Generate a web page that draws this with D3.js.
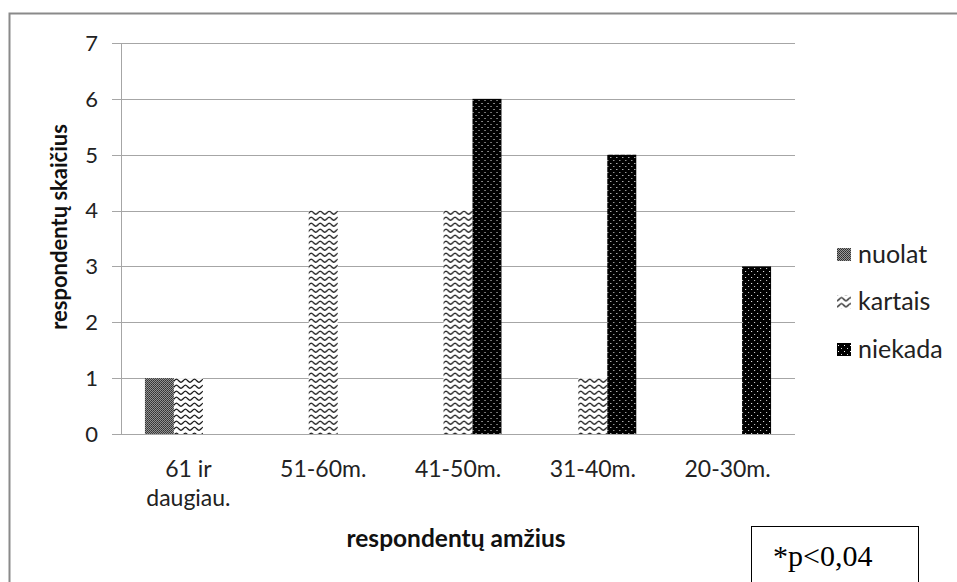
<!DOCTYPE html>
<html>
<head>
<meta charset="utf-8">
<script src="https://cdn.jsdelivr.net/npm/d3@7"></script>
<style>
  body { margin: 0; background: #fff; }
  svg { display: block; }
</style>
</head>
<body>
<svg id="fig" width="957" height="582"></svg>
<script>
'use strict';

// data
const categories = ['61 ir daugiau.', '51-60m.', '41-50m.', '31-40m.', '20-30m.'];
const cat_lines = [['61 ir', 'daugiau.'], ['51-60m.'], ['41-50m.'], ['31-40m.'], ['20-30m.']];
const series = ['nuolat', 'kartais', 'niekada'];
const nuolat = [1, 0, 0, 0, 0];
const kartais = [1, 4, 4, 1, 0];
const niekada = [0, 0, 6, 5, 3];
const y_ticks = [0, 1, 2, 3, 4, 5, 6, 7];

const values = {nuolat: nuolat, kartais: kartais, niekada: niekada};

const font = 'Lato, "Open Sans", sans-serif';
const font_size = 23;
const grid_color = '#a6a6a6';
const plot_l = 121, plot_r = 795, plot_t = 43, plot_b = 434;

const svg = d3.select('#fig');

// patterns
const defs = svg.append('defs');

const p1 = defs.append('pattern')
    .attr('id', 'pat_nuolat')
    .attr('patternUnits', 'userSpaceOnUse')
    .attr('width', 2).attr('height', 2);
p1.append('rect').attr('width', 2).attr('height', 2).attr('fill', '#9a9a9a');
p1.append('rect').attr('width', 1).attr('height', 1).attr('fill', '#2a2a2a');
p1.append('rect').attr('x', 1).attr('y', 1).attr('width', 1).attr('height', 1).attr('fill', '#3a3a3a');

const p2 = defs.append('pattern')
    .attr('id', 'pat_kartais')
    .attr('patternUnits', 'userSpaceOnUse')
    .attr('width', 9).attr('height', 6);
p2.append('rect').attr('width', 9).attr('height', 6).attr('fill', '#fff');
p2.append('path')
    .attr('d', 'M0,4.3 C1.5,4.3 3,1.2 4.5,1.2 C6,1.2 7.5,4.3 9,4.3')
    .attr('fill', 'none')
    .attr('stroke', '#111')
    .attr('stroke-width', 1.2);

const p3 = defs.append('pattern')
    .attr('id', 'pat_niekada')
    .attr('patternUnits', 'userSpaceOnUse')
    .attr('width', 6).attr('height', 6);
p3.append('rect').attr('width', 6).attr('height', 6).attr('fill', '#000');
p3.append('rect').attr('x', 1).attr('y', 1).attr('width', 1).attr('height', 1).attr('fill', '#fff');
p3.append('rect').attr('x', 4).attr('y', 4).attr('width', 1).attr('height', 1).attr('fill', '#ddd');

const fills = {nuolat: 'url(#pat_nuolat)', kartais: 'url(#pat_kartais)', niekada: 'url(#pat_niekada)'};

// outer frame
svg.append('rect')
    .attr('x', 9.5).attr('y', 13.5)
    .attr('width', 960).attr('height', 600)
    .attr('fill', 'none')
    .attr('stroke', '#8a8a8a')
    .attr('stroke-width', 2);

// scales
const x0 = d3.scaleBand()
    .domain(categories)
    .range([plot_l, plot_r])
    .paddingInner(0.355)
    .paddingOuter(0.1775);
const x1 = d3.scaleBand()
    .domain(series)
    .range([0, x0.bandwidth()]);
const y = d3.scaleLinear()
    .domain([0, 7])
    .range([plot_b, plot_t]);

// gridlines + y ticks
svg.append('g')
    .selectAll('line')
    .data(y_ticks)
    .enter()
    .append('line')
    .attr('x1', plot_l - 9)
    .attr('x2', plot_r)
    .attr('y1', d => Math.round(y(d)) + 0.5)
    .attr('y2', d => Math.round(y(d)) + 0.5)
    .attr('stroke', grid_color);

svg.append('line')
    .attr('x1', plot_l + 0.5).attr('x2', plot_l + 0.5)
    .attr('y1', plot_t).attr('y2', plot_b)
    .attr('stroke', grid_color);

svg.append('g')
    .selectAll('text')
    .data(y_ticks)
    .enter()
    .append('text')
    .attr('x', 98)
    .attr('y', d => y(d))
    .attr('dy', '0.36em')
    .attr('text-anchor', 'end')
    .attr('font-family', font)
    .attr('font-size', 22)
    .attr('fill', '#222')
    .text(d => d);

// bars
const groups = svg.append('g')
    .selectAll('g')
    .data(categories)
    .enter()
    .append('g')
    .attr('transform', d => 'translate(' + x0(d) + ',0)');

groups.selectAll('rect')
    .data((d, i) => series.map(s => ({s: s, v: values[s][i]})).filter(e => e.v > 0))
    .enter()
    .append('rect')
    .attr('x', d => x1(d.s))
    .attr('width', x1.bandwidth())
    .attr('y', d => y(d.v))
    .attr('height', d => y(0) - y(d.v))
    .attr('fill', d => fills[d.s]);

// x labels
const xl = svg.append('g')
    .selectAll('text')
    .data(categories)
    .enter()
    .append('text')
    .attr('x', d => x0(d) + x0.bandwidth() / 2)
    .attr('y', 477)
    .attr('text-anchor', 'middle')
    .attr('font-family', font)
    .attr('font-size', font_size)
    .attr('fill', '#222');
xl.selectAll('tspan')
    .data((d, i) => cat_lines[i])
    .enter()
    .append('tspan')
    .attr('x', function() { return this.parentNode.getAttribute('x'); })
    .attr('dy', (d, i) => i == 0 ? 0 : 29)
    .text(d => d);

// axis titles
svg.append('text')
    .attr('transform', 'translate(67,227) rotate(-90)')
    .attr('text-anchor', 'middle')
    .attr('font-family', font)
    .attr('font-weight', 'bold')
    .attr('font-size', 22)
    .attr('fill', '#111')
    .text('respondentų skaičius');

svg.append('text')
    .attr('x', 456)
    .attr('y', 547)
    .attr('text-anchor', 'middle')
    .attr('font-family', font)
    .attr('font-weight', 'bold')
    .attr('font-size', 24.5)
    .attr('fill', '#111')
    .text('respondentų amžius');

// legend
const legend = svg.append('g')
    .selectAll('g')
    .data(series)
    .enter()
    .append('g')
    .attr('transform', (d, i) => 'translate(837,' + (255 + i * 47.5) + ')');
legend.append('rect')
    .attr('x', 0).attr('y', -7)
    .attr('width', 14).attr('height', 13)
    .attr('fill', d => fills[d]);
legend.append('text')
    .attr('x', 21)
    .attr('dy', '0.3em')
    .attr('font-family', font)
    .attr('font-size', 25)
    .attr('fill', '#222')
    .text(d => d);

// annotation box
svg.append('rect')
    .attr('x', 751.5).attr('y', 526.5)
    .attr('width', 167).attr('height', 70)
    .attr('fill', '#fff')
    .attr('stroke', '#000')
    .attr('stroke-width', 1);
svg.append('text')
    .attr('x', 773)
    .attr('y', 566)
    .attr('font-family', '"Liberation Serif", "DejaVu Serif", serif')
    .attr('font-size', 30)
    .attr('fill', '#000')
    .text('*p<0,04');
</script>
</body>
</html>
